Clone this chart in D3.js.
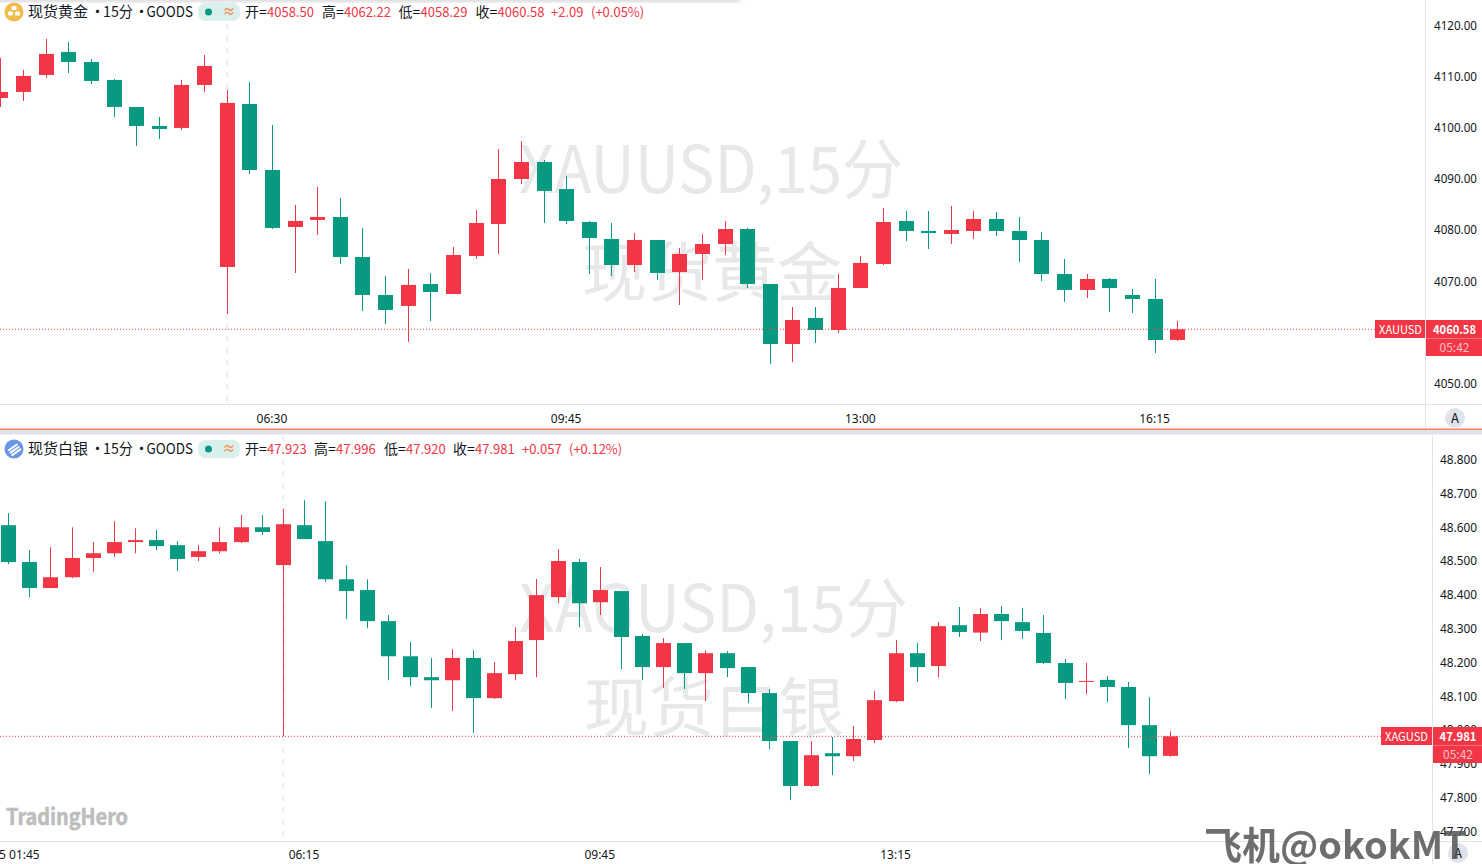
<!DOCTYPE html>
<html>
<head>
<meta charset="utf-8">
<script src="https://cdn.jsdelivr.net/npm/d3@7"></script>
<style>
  html, body { margin: 0; padding: 0; background: #fff; overflow: hidden; }
  svg { display: block; }
  text { font-family: "Noto Sans CJK SC", "Noto Sans", sans-serif; }
  .tick text { fill: #131722; font-size: 12px; font-family: "Noto Sans", sans-serif; }
</style>
</head>
<body>
<div id="chart"></div>
<script>
// gold, 15 min bars
const xauOpen = [4105.81,4106.99,4110.31,4114.81,4112.85,4109.33,4104.05,4100.34,4099.95,4108.36,4072.77,4104.64,4091.73,4080.59,4081.96,4082.54,4074.72,4067.29,4065.14,4069.44,4067.48,4074.91,4081.17,4089.97,4093.29,4088.01,4081.56,4078.24,4073.15,4078.04,4071.78,4075.30,4077.26,4080.19,4069.44,4057.70,4062.79,4060.44,4068.66,4073.35,4081.76,4079.80,4079.22,4079.80,4082.15,4079.80,4078.04,4071.39,4068.27,4070.42,4067.29,4066.51,4058.50];
const xauHigh = [4113.63,4111.29,4117.35,4116.76,4113.44,4109.53,4104.05,4102.10,4109.33,4114.22,4107.38,4108.94,4100.53,4084.89,4088.41,4086.26,4080.39,4071.01,4072.38,4071.59,4076.67,4083.91,4095.83,4097.40,4093.68,4090.56,4081.76,4081.36,4079.41,4078.04,4076.48,4079.21,4081.76,4080.39,4069.44,4064.94,4064.94,4071.39,4074.91,4084.30,4083.71,4083.71,4084.69,4083.71,4083.52,4082.54,4079.61,4074.33,4071.39,4070.61,4068.46,4070.42,4062.22];
const xauLow = [4104.05,4105.23,4109.72,4110.70,4108.55,4102.10,4096.43,4097.80,4099.56,4106.99,4063.58,4090.95,4080.20,4071.59,4079.02,4073.35,4064.16,4061.62,4058.10,4062.20,4067.48,4074.33,4075.30,4088.99,4081.36,4081.17,4071.39,4071.00,4071.78,4070.22,4065.33,4070.22,4075.11,4068.65,4053.79,4054.18,4057.90,4059.86,4068.66,4073.15,4077.85,4076.28,4077.26,4078.24,4078.83,4073.74,4070.03,4065.92,4066.70,4063.96,4063.77,4055.95,4058.29];
const xauClose = [4106.99,4110.12,4114.42,4112.85,4109.14,4104.05,4100.34,4099.75,4108.36,4112.07,4104.84,4091.73,4080.39,4081.76,4082.54,4074.72,4067.29,4064.36,4069.25,4067.87,4075.11,4081.36,4089.97,4093.29,4087.62,4081.76,4078.43,4073.15,4078.04,4071.59,4075.30,4077.26,4080.19,4069.44,4057.70,4062.40,4060.44,4068.66,4073.55,4081.56,4079.80,4079.41,4080.00,4082.15,4079.80,4078.04,4071.39,4068.27,4070.42,4068.66,4066.51,4058.49,4060.58];

// silver, 15 min bars
const xagOpen = [48.606,48.497,48.420,48.452,48.509,48.523,48.556,48.562,48.547,48.512,48.529,48.556,48.600,48.488,48.606,48.559,48.446,48.414,48.322,48.218,48.156,48.147,48.213,48.094,48.165,48.266,48.393,48.497,48.378,48.411,48.278,48.186,48.257,48.168,48.227,48.186,48.109,47.967,47.834,47.931,47.922,47.970,48.085,48.227,48.189,48.310,48.288,48.343,48.319,48.287,48.198,48.142,48.148,48.127,48.014,47.923];
const xagHigh = [48.642,48.532,48.541,48.600,48.556,48.618,48.597,48.592,48.559,48.547,48.600,48.636,48.636,48.654,48.680,48.677,48.488,48.446,48.340,48.260,48.213,48.239,48.236,48.201,48.304,48.447,48.535,48.506,48.482,48.411,48.284,48.272,48.257,48.236,48.233,48.186,48.121,47.967,47.967,47.979,48.011,48.115,48.266,48.257,48.319,48.364,48.361,48.367,48.361,48.340,48.210,48.198,48.159,48.142,48.097,47.996];
const xagLow = [48.491,48.393,48.420,48.449,48.467,48.512,48.523,48.532,48.470,48.500,48.523,48.553,48.577,47.981,48.565,48.438,48.328,48.301,48.147,48.130,48.065,48.056,47.991,48.091,48.147,48.156,48.375,48.304,48.340,48.180,48.147,48.124,48.121,48.085,48.156,48.079,47.943,47.792,47.831,47.866,47.908,47.961,48.082,48.142,48.156,48.275,48.263,48.266,48.269,48.195,48.091,48.106,48.082,47.946,47.869,47.920];
const xagClose = [48.497,48.420,48.452,48.509,48.523,48.556,48.562,48.544,48.506,48.529,48.556,48.600,48.586,48.609,48.565,48.446,48.411,48.322,48.218,48.156,48.147,48.213,48.094,48.168,48.263,48.399,48.500,48.375,48.414,48.275,48.186,48.257,48.168,48.227,48.183,48.109,47.967,47.834,47.925,47.922,47.973,48.088,48.227,48.186,48.307,48.290,48.343,48.322,48.293,48.198,48.139,48.145,48.127,48.014,47.922,47.981];

const xauPriceTicks = [4050,4060,4070,4080,4090,4100,4110,4120];
const xagPriceTicks = [47.7,47.8,47.9,48.0,48.1,48.2,48.3,48.4,48.5,48.6,48.7,48.8];
const xauTimeIndex = [12,25,38,51];
const xauTimeLabels = ['06:30','09:45','13:00','16:15'];
const xagTimeIndex = [0.53,14,28,42];
const xagTimeLabels = ['5 01:45','06:15','09:45','13:15'];

const xauLegend = [['开=','4058.50'],['高=','4062.22'],['低=','4058.29'],['收=','4060.58']];
const xagLegend = [['开=','47.923'],['高=','47.996'],['低=','47.920'],['收=','47.981']];

const UP = '#f23645', DOWN = '#089981', GRID = '#e0e3eb';
const W = 1482, H = 864;

const svg = d3.select('#chart').append('svg').attr('width', W).attr('height', H);

// faint shadow of the page header
svg.append('filter').attr('id', 'soft').append('feGaussianBlur').attr('stdDeviation', 2);
svg.append('rect').attr('x', -10).attr('y', -6).attr('width', 750).attr('height', 8)
  .attr('fill', '#d8d8d8').attr('filter', 'url(#soft)');

function drawPane(p) {
  const y = d3.scaleLinear().domain(p.priceDomain).range(p.priceRange);
  const x = d3.scaleLinear().domain([0, p.close.length - 1]).range(p.xRange);
  const bars = d3.range(p.close.length);
  const clipId = 'clip-' + p.symbol;

  svg.append('clipPath').attr('id', clipId).append('rect')
    .attr('x', 0).attr('y', p.top).attr('width', p.axisX).attr('height', p.bottom - p.top);

  const plot = svg.append('g').attr('clip-path', `url(#${clipId})`);

  // watermark
  plot.append('text').attr('x', p.markX).attr('y', p.markY[0]).attr('font-size', 65).attr('fill', '#e7e8ea')
    .attr('textLength', p.markW).attr('lengthAdjust', 'spacingAndGlyphs').text(p.symbol + ',15分');
  plot.append('text').attr('x', p.markX2).attr('y', p.markY[1]).attr('font-size', 65).attr('fill', '#e7e8ea').text(p.name);

  // crosshair
  plot.append('line')
    .attr('x1', x(p.crossIndex)).attr('x2', x(p.crossIndex))
    .attr('y1', p.top).attr('y2', p.bottom)
    .attr('stroke', '#eceef2').attr('stroke-width', 2).attr('stroke-dasharray', '6 6');

  const last = p.close[p.close.length - 1];

  // candles
  const left = i => Math.round(x(i) - 7.5);
  plot.selectAll('rect.wick').data(bars).enter().append('rect').attr('class', 'wick')
    .attr('x', i => left(i) + 7).attr('width', 1)
    .attr('y', i => y(p.high[i])).attr('height', i => y(p.low[i]) - y(p.high[i]))
    .attr('fill', i => p.close[i] >= p.open[i] ? UP : DOWN);
  plot.selectAll('rect.body').data(bars).enter().append('rect').attr('class', 'body')
    .attr('x', left).attr('width', 15)
    .attr('y', i => y(Math.max(p.open[i], p.close[i])))
    .attr('height', i => Math.max(1, Math.abs(y(p.open[i]) - y(p.close[i]))))
    .attr('fill', i => p.close[i] >= p.open[i] ? UP : DOWN);

  // last price line
  plot.append('line').attr('x1', 0).attr('x2', p.axisX).attr('y1', y(last)).attr('y2', y(last))
    .attr('stroke', UP).attr('stroke-dasharray', '1 2');

  // price axis
  const priceAxis = d3.axisRight(y).tickValues(p.priceTicks).tickSize(0).tickPadding(p.axisPad).tickFormat(p.priceFormat);
  const ga = svg.append('g').attr('transform', `translate(${p.axisX},0)`).call(priceAxis);
  ga.select('.domain').remove();
  ga.selectAll('text').attr('textLength', p.tickW).attr('lengthAdjust', 'spacingAndGlyphs').attr('dy', '0.33em');

  // time axis
  const timeAxis = d3.axisBottom(x).tickValues(p.timeIndex).tickSize(0).tickPadding(0)
    .tickFormat((d, i) => p.timeLabels[i]);
  const gt = svg.append('g').attr('transform', `translate(-1,${p.timeY})`).call(timeAxis);
  gt.select('.domain').remove();

  // pane lines
  svg.append('line').attr('x1', p.axisX + 0.5).attr('x2', p.axisX + 0.5).attr('y1', p.top).attr('y2', p.bottom + 24).attr('stroke', GRID);
  svg.append('line').attr('x1', 0).attr('x2', W).attr('y1', p.bottom + 0.5).attr('y2', p.bottom + 0.5).attr('stroke', GRID);

  // last price tags
  const tagY = Math.round(y(last)) - 9;
  svg.append('rect').attr('x', p.axisX - p.tagW).attr('y', tagY).attr('width', p.tagW).attr('height', 18).attr('fill', UP);
  svg.append('rect').attr('x', p.axisX + 1).attr('y', tagY).attr('width', W - p.axisX).attr('height', 36).attr('fill', UP);
  svg.append('line').attr('x1', p.axisX + 1).attr('x2', W).attr('y1', tagY + 18.5).attr('y2', tagY + 18.5).attr('stroke', '#f7717c');
  svg.append('text').attr('x', p.axisX - p.tagW + 4).attr('y', tagY + 14)
    .attr('font-size', 12).attr('fill', '#fff').attr('font-family', 'Noto Sans')
    .attr('textLength', 43).attr('lengthAdjust', 'spacingAndGlyphs').text(p.symbol);
  svg.append('text').attr('x', p.tagX).attr('y', tagY + 14).attr('text-anchor', 'middle')
    .attr('font-size', 12).attr('font-weight', 600).attr('fill', '#fff').attr('font-family', 'Noto Sans')
    .attr('textLength', p.tickW).attr('lengthAdjust', 'spacingAndGlyphs').text(p.lastLabel);
  svg.append('text').attr('x', p.tagX).attr('y', tagY + 32).attr('text-anchor', 'middle')
    .attr('font-size', 12).attr('fill', '#fbc1c7').attr('font-family', 'Noto Sans').text('05:42');

  // A button
  svg.append('circle').attr('cx', p.aBtn[0]).attr('cy', p.aBtn[1]).attr('r', 10).attr('fill', GRID);
  svg.append('text').attr('x', p.aBtn[0]).attr('y', p.aBtn[1] + 5).attr('text-anchor', 'middle')
    .attr('font-size', 13).attr('fill', '#131722').attr('font-family', 'Noto Sans').text('A');

  // legend
  const ly = p.legendY;
  const icon = svg.append('g').attr('transform', `translate(14,${ly})`);
  icon.append('circle').attr('r', 9.5).attr('fill', p.iconColor);
  p.iconMarks.forEach(m => icon.append('rect').attr('x', m[0]).attr('y', m[1]).attr('width', m[2]).attr('height', m[3])
    .attr('rx', 1).attr('fill', '#fff').attr('transform', m[4] || null));

  const title = (tx, txt, len) => {
    const t = svg.append('text').attr('x', tx).attr('y', ly + 5).attr('font-size', 15).attr('fill', '#131722').text(txt);
    if (len) t.attr('textLength', len).attr('lengthAdjust', 'spacingAndGlyphs');
  };
  title(28, p.name, 60);
  title(90, '•');
  title(103, '15分', 30);
  title(134, '•');
  title(146.5, 'GOODS', 46.5);

  svg.append('rect').attr('x', 198).attr('y', ly - 9).attr('width', 42).attr('height', 18).attr('rx', 7).attr('fill', '#daf0ec');
  svg.append('circle').attr('cx', 208.5).attr('cy', ly).attr('r', 3.5).attr('fill', DOWN);
  svg.append('text').attr('x', 229).attr('y', ly + 4).attr('text-anchor', 'middle').attr('font-size', 13)
    .attr('font-weight', 700).attr('fill', '#f7905e').text('≈');

  p.legend.forEach((d, i) => {
    svg.append('text').attr('x', p.legendX[i]).attr('y', ly + 5).attr('font-size', 14).attr('fill', '#131722').text(d[0]);
    svg.append('text').attr('x', p.legendVX[i]).attr('y', ly + 4.5).attr('font-size', 13).attr('fill', UP)
      .attr('font-family', 'Noto Sans').text(d[1]);
  });
  svg.append('text').attr('x', p.changeX[0]).attr('y', ly + 4.5).attr('font-size', 13).attr('fill', UP)
    .attr('font-family', 'Noto Sans').text(p.change[0]);
  svg.append('text').attr('x', p.changeX[1]).attr('y', ly + 4.5).attr('font-size', 13).attr('fill', UP)
    .attr('font-family', 'Noto Sans').text(p.change[1]);
}

const goldMarks = [[-2.5,-6,5,4],[-6,-0.5,5,4],[1,-0.5,5,4]];
const silverMarks = [[-6,-3,12,2,'rotate(-35)'],[-6,0,12,2,'rotate(-35)'],[-6,3,12,2,'rotate(-35)']];

drawPane({
  symbol: 'XAUUSD', name: '现货黄金', lastLabel: '4060.58',
  open: xauOpen, high: xauHigh, low: xauLow, close: xauClose,
  priceDomain: [4050, 4120], priceRange: [383.4, 25.4], priceTicks: xauPriceTicks, priceFormat: d3.format('.2f'), tickW: 43,
  xRange: [0.9, 1177.66], timeIndex: xauTimeIndex, timeLabels: xauTimeLabels,
  top: 0, bottom: 404, axisX: 1425, axisPad: 9, timeY: 414, tagW: 50, tagX: 1454.5,
  markX: 519, markX2: 582, markW: 384, markY: [193, 296], crossIndex: 10, aBtn: [1455, 418],
  legendY: 12, iconColor: '#f0bc4c', iconMarks: goldMarks, legend: xauLegend,
  legendX: [245, 322, 398.5, 475.5], legendVX: [267, 344, 420.5, 497.5],
  changeX: [551, 591], change: ['+2.09', '(+0.05%)']
});

drawPane({
  symbol: 'XAGUSD', name: '现货白银', lastLabel: '47.981',
  open: xagOpen, high: xagHigh, low: xagLow, close: xagClose,
  priceDomain: [47.7, 48.8], priceRange: [831.2, 459.7], priceTicks: xagPriceTicks, priceFormat: d3.format('.3f'), tickW: 37,
  xRange: [8.7, 1170.7], timeIndex: xagTimeIndex, timeLabels: xagTimeLabels,
  top: 435, bottom: 841, axisX: 1432, axisPad: 8, timeY: 850, tagW: 51, tagX: 1458,
  markX: 519, markX2: 584, markW: 389, markY: [632, 731], crossIndex: 13, aBtn: [1458, 853],
  legendY: 449, iconColor: '#6a94e8', iconMarks: silverMarks, legend: xagLegend,
  legendX: [245, 314, 384, 453], legendVX: [267, 336, 406, 475],
  changeX: [522, 569], change: ['+0.057', '(+0.12%)']
});

// divider between panes
svg.append('rect').attr('x', 0).attr('y', 430).attr('width', W).attr('height', 4.5).attr('fill', GRID);
svg.append('rect').attr('x', 0).attr('y', 428.5).attr('width', W).attr('height', 1.5).attr('fill', '#f7845a');

// logos on top
svg.append('text').attr('x', 6).attr('y', 825).attr('font-size', 22).attr('font-weight', 700)
  .attr('fill', '#bdbdbd').attr('stroke', '#bdbdbd').attr('stroke-width', 0.6).attr('font-family', 'Inter')
  .attr('textLength', 122).attr('lengthAdjust', 'spacingAndGlyphs').text('TradingHero');
svg.append('text').attr('x', 1204).attr('y', 859).attr('font-size', 38).attr('font-weight', 700)
  .attr('fill', '#555').attr('opacity', 0.85).attr('font-family', 'Noto Sans CJK SC').text('飞机@okokMT');
</script>
</body>
</html>
